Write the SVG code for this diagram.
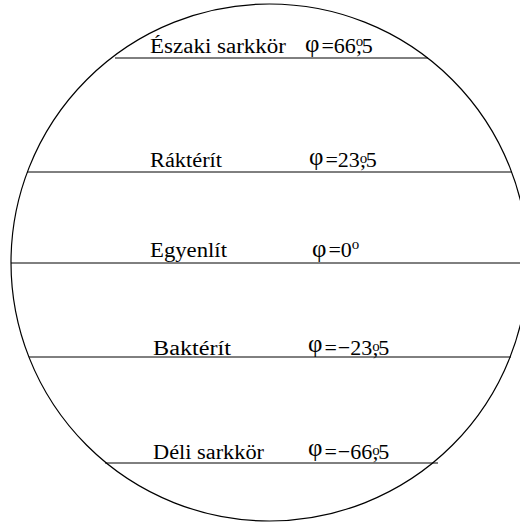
<svg xmlns="http://www.w3.org/2000/svg" width="520" height="522" viewBox="0 0 520 522">
<style>
.lbl{font-family:"Liberation Serif","Times New Roman",serif;font-size:20px;fill:#000}
.val{font-family:"Liberation Serif","Times New Roman",serif;font-size:22px;fill:#000}
.phi{font-size:25px}
.sup{font-size:15px}
.ln{stroke:#000;stroke-width:1;fill:none}
</style>
<rect width="520" height="522" fill="#fff"/>
<g id="globe"><circle cx="269.5" cy="262.5" r="258.5" fill="none" stroke="#000" stroke-width="1.2"/></g>
<g id="connectors">
<line class="ln" x1="115" y1="58" x2="428" y2="58"/>
<line class="ln" x1="27" y1="172" x2="512" y2="172"/>
<line class="ln" x1="11" y1="263" x2="520" y2="263"/>
<line class="ln" x1="29" y1="357" x2="511" y2="357"/>
<line class="ln" x1="105" y1="463" x2="438" y2="463"/>
</g>
<g id="eszaki">
<text class="lbl" x="150" y="53" textLength="136" lengthAdjust="spacingAndGlyphs">Északi sarkkör</text>
<text class="val" x="305" y="52"><tspan class="phi">φ</tspan><tspan dx="2" dy="1">=66</tspan><tspan class="sup" dy="-7">o</tspan><tspan dx="-7" dy="7">,5</tspan></text>
</g>
<g id="raktérit">
<text class="lbl" x="150" y="167" textLength="72" lengthAdjust="spacingAndGlyphs">Ráktérít</text>
<text class="val" x="309" y="165"><tspan class="phi">φ</tspan><tspan dx="2" dy="2">=23</tspan><tspan class="sup" dy="-4">o</tspan><tspan dx="-7" dy="4">,5</tspan></text>
</g>
<g id="egyenlit">
<text class="lbl" x="150" y="257" textLength="77" lengthAdjust="spacingAndGlyphs">Egyenlít</text>
<text class="val" x="312" y="257"><tspan class="phi">φ</tspan><tspan dx="2">=0</tspan><tspan class="sup" dy="-8">o</tspan></text>
</g>
<g id="bakterit">
<text class="lbl" x="153" y="355" textLength="78" lengthAdjust="spacingAndGlyphs">Baktérít</text>
<text class="val" x="308" y="352"><tspan class="phi">φ</tspan><tspan dx="2" dy="3">=</tspan><tspan dx="1">−23</tspan><tspan class="sup" dy="-4">o</tspan><tspan dx="-7" dy="4">,5</tspan></text>
</g>
<g id="deli">
<text class="lbl" x="153" y="459" textLength="111" lengthAdjust="spacingAndGlyphs">Déli sarkkör</text>
<text class="val" x="308" y="456"><tspan class="phi">φ</tspan><tspan dx="2" dy="3">=</tspan><tspan dx="1">−66</tspan><tspan class="sup" dy="-4">o</tspan><tspan dx="-7" dy="4">,5</tspan></text>
</g>
</svg>
